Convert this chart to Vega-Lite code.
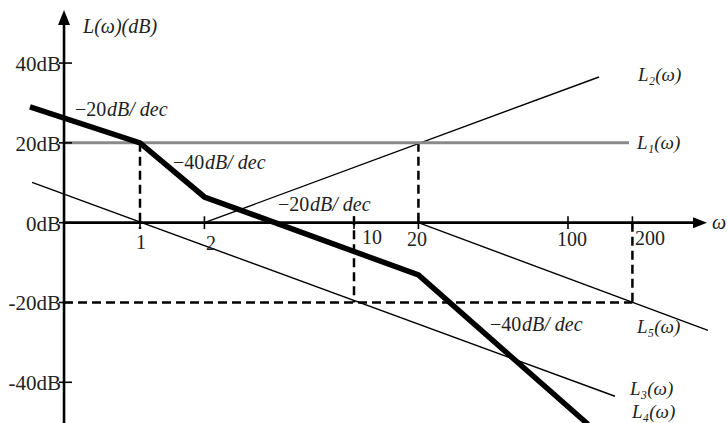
{
  "$schema": "https://vega.github.io/schema/vega-lite/v6.json",
  "width": 727,
  "height": 423,
  "autosize": {"type": "none"},
  "padding": 0,
  "background": "white",
  "config": {"view": {"stroke": null}},
  "datasets": {
    "dashed": [
      {"w": 1, "db": 20, "w2": 1, "db2": -1.6},
      {"w": 10, "db": 1.6, "w2": 10, "db2": -20},
      {"w": 20, "db": 20, "w2": 20, "db2": 0},
      {"w": 200, "db": 0, "w2": 200, "db2": -20},
      {"w": 0.4415, "db": -20, "w2": 200, "db2": -20}
    ],
    "thin": [
      {"name": "L2", "w": 2, "db": 0, "w2": 139.6, "db2": 36.5},
      {"name": "L3", "w": 0.313, "db": 10.1, "w2": 165.8, "db2": -43.5},
      {"name": "L5", "w": 20, "db": 0, "w2": 451, "db2": -27}
    ],
    "gray": [
      {"name": "L1", "w": 0.4415, "db": 20, "w2": 192.8, "db2": 20}
    ],
    "axes": [
      {"w": 0.4415, "db": -50.2, "w2": 0.4415, "db2": 51},
      {"w": 0.4415, "db": 0, "w2": 420, "db2": 0}
    ],
    "xticks": [{"w": 1}, {"w": 2}, {"w": 10}, {"w": 20}, {"w": 100}, {"w": 200}],
    "yticks": [{"db": 40}, {"db": 20}, {"db": 0}, {"db": -20}, {"db": -40}],
    "thick": [
      {"i": 0, "w": 0.306, "db": 29.0},
      {"i": 1, "w": 1, "db": 20},
      {"i": 2, "w": 2, "db": 6.44},
      {"i": 3, "w": 20, "db": -13.1},
      {"i": 4, "w": 124, "db": -50.5}
    ],
    "ylabels": [
      {"t": "40dB", "db": 40},
      {"t": "20dB", "db": 20},
      {"t": "0dB", "db": 0},
      {"t": "-20dB", "db": -20},
      {"t": "-40dB", "db": -40}
    ],
    "xlabels": [
      {"t": "1", "w": 1.011, "db": -5.09},
      {"t": "2", "w": 2.147, "db": -5.34},
      {"t": "10", "w": 12.14, "db": -3.83},
      {"t": "20", "w": 19.7, "db": -4.34},
      {"t": "100", "w": 104.4, "db": -4.34},
      {"t": "200", "w": 241.6, "db": -4.09}
    ],
    "slopes": [
      {"num": "−20", "w": 0.4969, "db": 28.25},
      {"num": "−40", "w": 1.427, "db": 14.96},
      {"num": "−20", "w": 4.415, "db": 4.44},
      {"num": "−40", "w": 43.2, "db": -25.64}
    ],
    "curvelabels": [
      {"t": "L₂(ω)", "w": 212.4, "db": 37.02},
      {"t": "L₁(ω)", "w": 210.1, "db": 19.85},
      {"t": "L₅(ω)", "w": 210.1, "db": -26.14},
      {"t": "L₃(ω)", "w": 194.9, "db": -41.68},
      {"t": "L₄(ω)", "w": 199.2, "db": -47.44}
    ],
    "titles": [
      {"t": "L(ω)(dB)", "w": 0.5417, "db": 49.05},
      {"t": "ω", "w": 470.9, "db": 0}
    ],
    "arrows": [
      {"dir": "up", "w": 0.4415, "db": 51.4},
      {"dir": "right", "w": 413.9, "db": 0}
    ]
  },
  "layer": [
    {
      "data": {"name": "dashed"},
      "mark": {"type": "rule", "stroke": "black", "strokeWidth": 2.5, "strokeDash": [9, 5]},
      "encoding": {
        "x": {"field": "w", "type": "quantitative", "scale": {"type": "log", "domain": [0.2217, 553.4], "nice": false}, "axis": null},
        "x2": {"field": "w2"},
        "y": {"field": "db", "type": "quantitative", "scale": {"domain": [-50.2, 55.8], "nice": false, "zero": false}, "axis": null},
        "y2": {"field": "db2"}
      }
    },
    {
      "data": {"name": "thin"},
      "mark": {"type": "rule", "stroke": "black", "strokeWidth": 1.4},
      "encoding": {
        "x": {"field": "w", "type": "quantitative"},
        "x2": {"field": "w2"},
        "y": {"field": "db", "type": "quantitative"},
        "y2": {"field": "db2"}
      }
    },
    {
      "data": {"name": "gray"},
      "mark": {"type": "rule", "stroke": "#8a8a8a", "strokeWidth": 3},
      "encoding": {
        "x": {"field": "w", "type": "quantitative"},
        "x2": {"field": "w2"},
        "y": {"field": "db", "type": "quantitative"},
        "y2": {"field": "db2"}
      }
    },
    {
      "data": {"name": "axes"},
      "mark": {"type": "rule", "stroke": "black", "strokeWidth": 2.6},
      "encoding": {
        "x": {"field": "w", "type": "quantitative"},
        "x2": {"field": "w2"},
        "y": {"field": "db", "type": "quantitative"},
        "y2": {"field": "db2"}
      }
    },
    {
      "data": {"name": "xticks"},
      "mark": {"type": "rule", "stroke": "black", "strokeWidth": 1.6},
      "encoding": {
        "x": {"field": "w", "type": "quantitative"},
        "y": {"datum": -1.6, "type": "quantitative"},
        "y2": {"datum": 1.6}
      }
    },
    {
      "data": {"name": "yticks"},
      "mark": {"type": "rule", "stroke": "black", "strokeWidth": 1.6},
      "encoding": {
        "y": {"field": "db", "type": "quantitative"},
        "x": {"datum": 0.418, "type": "quantitative"},
        "x2": {"datum": 0.481}
      }
    },
    {
      "data": {"name": "thick"},
      "mark": {"type": "line", "stroke": "black", "strokeWidth": 5.5, "strokeJoin": "miter", "strokeCap": "butt"},
      "encoding": {
        "x": {"field": "w", "type": "quantitative"},
        "y": {"field": "db", "type": "quantitative"},
        "order": {"field": "i", "type": "quantitative"}
      }
    },
    {
      "data": {"name": "arrows"},
      "transform": [{"filter": "datum.dir === 'up'"}],
      "mark": {"type": "point", "filled": true, "color": "black", "opacity": 1, "size": 225, "shape": "M0,-1L0.8,1L-0.8,1Z"},
      "encoding": {
        "x": {"field": "w", "type": "quantitative"},
        "y": {"field": "db", "type": "quantitative"}
      }
    },
    {
      "data": {"name": "arrows"},
      "transform": [{"filter": "datum.dir === 'right'"}],
      "mark": {"type": "point", "filled": true, "color": "black", "opacity": 1, "size": 196, "shape": "M1,0L-1,0.78L-1,-0.78Z"},
      "encoding": {
        "x": {"field": "w", "type": "quantitative"},
        "y": {"field": "db", "type": "quantitative"}
      }
    },
    {
      "data": {"name": "ylabels"},
      "mark": {"type": "text", "font": "Liberation Serif", "fontSize": 21, "align": "right", "baseline": "middle", "dy": 2, "color": "#222"},
      "encoding": {
        "x": {"datum": 0.4275, "type": "quantitative"},
        "y": {"field": "db", "type": "quantitative"},
        "text": {"field": "t"}
      }
    },
    {
      "data": {"name": "xlabels"},
      "mark": {"type": "text", "font": "Liberation Serif", "fontSize": 20, "align": "center", "baseline": "middle", "color": "#222"},
      "encoding": {
        "x": {"field": "w", "type": "quantitative"},
        "y": {"field": "db", "type": "quantitative"},
        "text": {"field": "t"}
      }
    },
    {
      "data": {"name": "slopes"},
      "mark": {"type": "text", "font": "Liberation Serif", "fontSize": 20, "align": "left", "baseline": "middle", "color": "#222"},
      "encoding": {
        "x": {"field": "w", "type": "quantitative"},
        "y": {"field": "db", "type": "quantitative"},
        "text": {"field": "num"}
      }
    },
    {
      "data": {"name": "slopes"},
      "mark": {"type": "text", "font": "Liberation Serif", "fontSize": 20, "fontStyle": "italic", "align": "left", "baseline": "middle", "dx": 32, "color": "#222", "text": "dB/ dec"},
      "encoding": {
        "x": {"field": "w", "type": "quantitative"},
        "y": {"field": "db", "type": "quantitative"}
      }
    },
    {
      "data": {"name": "curvelabels"},
      "mark": {"type": "text", "font": "Liberation Serif", "fontSize": 19, "fontStyle": "italic", "align": "left", "baseline": "middle", "color": "#222"},
      "encoding": {
        "x": {"field": "w", "type": "quantitative"},
        "y": {"field": "db", "type": "quantitative"},
        "text": {"field": "t"}
      }
    },
    {
      "data": {"name": "titles"},
      "mark": {"type": "text", "font": "Liberation Serif", "fontSize": 20, "fontStyle": "italic", "align": "left", "baseline": "middle", "color": "#222"},
      "encoding": {
        "x": {"field": "w", "type": "quantitative"},
        "y": {"field": "db", "type": "quantitative"},
        "text": {"field": "t"}
      }
    }
  ]
}
